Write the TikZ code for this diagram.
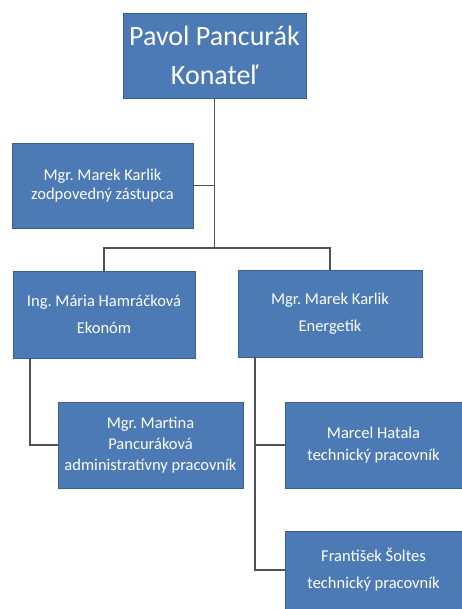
\documentclass[tikz,border=0pt]{standalone}
\usepackage{fontspec}
\setmainfont{Carlito}
\usepackage{tikz}
\usetikzlibrary{positioning}
\definecolor{orgblue}{RGB}{76,122,180}
\definecolor{orgedge}{RGB}{60,95,145}
\definecolor{orgline}{RGB}{80,80,90}

\tikzset{
  person/.style={draw=orgedge, fill=orgblue, text=white, align=center,
    inner sep=2pt, font=\fontsize{16.5}{21}\selectfont},
  link/.style={draw=orgline, line width=1.4pt}
}

\begin{document}
\begin{tikzpicture}[x=1pt,y=-1pt]
\useasboundingbox (0,0) rectangle (462,609);
% boss
\node[person, minimum width=183pt, minimum height=85pt,
  font=\fontsize{28}{39}\selectfont] (konatel) at (214.5,55.5)
  {Pavol Pancurák\\Konateľ};
% deputy
\node[person, minimum width=181pt, minimum height=85pt,
  font=\fontsize{16.5}{19}\selectfont] (zastupca) at (102.5,185.5)
  {Mgr.\ Marek Karlik\\zodpovedný zástupca};
% second row
\node[person, minimum width=182pt, minimum height=87pt,
  font=\fontsize{16.5}{27}\selectfont] (ekonom) at (104,314.5)
  {Ing.\ Mária Hamráčková\\Ekonóm};
\node[person, minimum width=184pt, minimum height=87pt,
  font=\fontsize{16.5}{27}\selectfont] (energetik) at (330,313.5)
  {Mgr.\ Marek Karlik\\Energetik};
% staff
\node[person, minimum width=185pt, minimum height=86pt, inner sep=0pt] (admin) at (150.5,445)
  {Mgr.\ Martina\\Pancuráková\\administratívny pracovník};
\node[person, minimum width=177pt, minimum height=86pt,
  font=\fontsize{16.5}{22}\selectfont] (hatala) at (373.5,445)
  {Marcel Hatala\\technický pracovník};
\node[person, minimum width=177pt, minimum height=78pt,
  font=\fontsize{16.5}{27}\selectfont] (soltes) at (373.5,570)
  {František Šoltes\\technický pracovník};

% connectors
\coordinate (split) at (214.5,248);
\draw[link] (konatel.south) -- (split);
\draw[link] (zastupca.east) -- (zastupca.east -| split);
\draw[link] (ekonom.north) |- (split) -| (energetik.north);
\draw[link] ([xshift=17pt]ekonom.south west) |- (admin.west);
\draw[link] ([xshift=17pt]energetik.south west) |- (hatala.west);
\draw[link] ([xshift=17pt]energetik.south west) |- (soltes.west);
\end{tikzpicture}
\end{document}
